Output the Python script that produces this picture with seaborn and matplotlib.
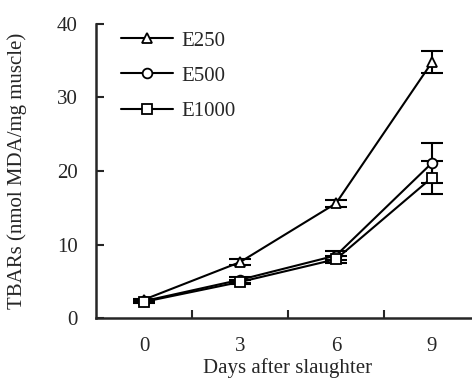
import matplotlib
matplotlib.use("Agg")
import matplotlib.pyplot as plt
import seaborn as sns
import pandas as pd

days = ["0", "3", "6", "9"]
groups = ["E250", "E500", "E1000"]
e250 = [2.5, 7.6, 15.6, 34.8]
e500 = [2.3, 5.2, 8.5, 21.1]
e1000 = [2.2, 4.9, 8.0, 19.1]
e250_err = [0.1, 0.4, 0.5, 1.5]
e500_err = [0.1, 0.4, 0.6, 2.7]
e1000_err = [0.1, 0.3, 0.5, 2.2]
yticks = [0, 10, 20, 30, 40]

values = {"E250": e250, "E500": e500, "E1000": e1000}
errors = {"E250": e250_err, "E500": e500_err, "E1000": e1000_err}
markers = {"E250": "^", "E500": "o", "E1000": "s"}

rows = []
for g in groups:
    for d, v, e in zip(days, values[g], errors[g]):
        rows.append({"day": d, "group": g, "tbars": v, "err": e})
df = pd.DataFrame(rows)

sns.set_theme(style="ticks")
plt.rcParams["font.family"] = ["Liberation Serif", "DejaVu Serif"]

fig = plt.figure(figsize=(4.72, 3.80), dpi=100)
ax = fig.add_axes([96 / 472, 62 / 380, 384 / 472, 294 / 380])

sns.lineplot(data=df, x="day", y="tbars", hue="group", style="group",
             markers=markers, dashes=False, palette=["black"] * 3,
             hue_order=groups, style_order=groups, sort=False,
             linewidth=1.5, markersize=7, markerfacecolor="white",
             markeredgecolor="black", markeredgewidth=1.3, ax=ax,
             errorbar=None, zorder=3)

for g in groups:
    sub = df[df["group"] == g]
    ax.errorbar(sub["day"], sub["tbars"], yerr=sub["err"], fmt="none",
                ecolor="black", elinewidth=1.5, capsize=8, capthick=1.5,
                zorder=2)

ax.set_xlim(-0.5, 3.5)
ax.set_ylim(0, 40)
ax.set_yticks(yticks)
ax.set_xticks([0.5, 1.5, 2.5], minor=False)
ax.set_xticklabels([])
ax.set_xticks(range(len(days)), minor=True)
ax.set_xticklabels(days, minor=True)
ax.tick_params(axis="x", which="major", direction="in", length=6, width=1.5)
ax.tick_params(axis="x", which="minor", length=0, pad=14, labelsize=15)
ax.tick_params(axis="y", direction="in", length=6, width=1.5, pad=13,
               labelsize=15)
for s in ["top", "right"]:
    ax.spines[s].set_visible(False)
for s in ["left", "bottom"]:
    ax.spines[s].set_linewidth(1.8)

ax.set_xlabel("Days after slaughter", fontsize=15, labelpad=1)
ax.set_ylabel("TBARs (nmol MDA/mg muscle)", fontsize=15, labelpad=22)

leg = ax.legend(loc="upper left", bbox_to_anchor=(0.016, 1.04), frameon=False,
                fontsize=15, handlelength=2.5, labelspacing=0.75,
                handletextpad=0.4)
for h in leg.legend_handles:
    h.set_markerfacecolor("white")
    h.set_markeredgecolor("black")
    h.set_color("black")

fig.savefig("out.png", dpi=100)
